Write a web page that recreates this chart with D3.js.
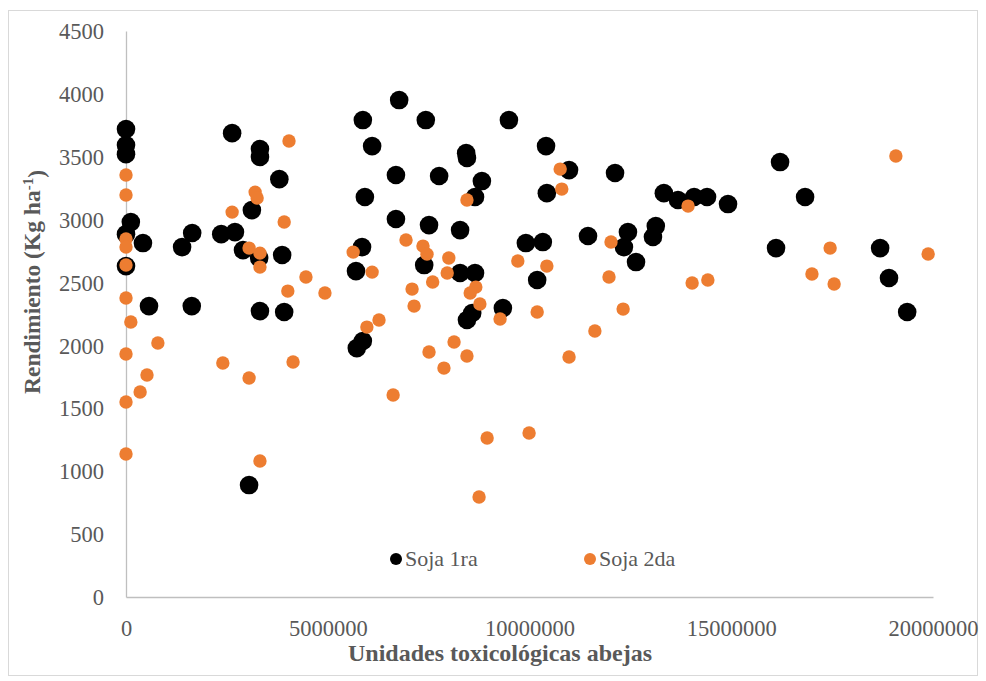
<!DOCTYPE html>
<html>
<head>
<meta charset="utf-8">
<script src="https://cdn.jsdelivr.net/npm/d3@7"></script>
<style>
  html, body { margin: 0; padding: 0; background: #fff; }
  svg { display: block; }
</style>
</head>
<body>
<svg id="chart" width="986" height="681"></svg>
<script>
// ---- data ----
const seriesNames = ["Soja 1ra", "Soja 2da"];
const xTicks = [0, 5000000, 10000000, 15000000, 20000000];
const yTicks = [0, 500, 1000, 1500, 2000, 2500, 3000, 3500, 4000, 4500];

const soja1raX = [0, 0, 0, 120000, 0, 420000, 0, 570000, 1390000, 1640000, 2360000, 2700000, 2630000, 1630000, 3120000, 3320000, 3320000, 2900000, 3300000, 3800000, 3870000, 3320000, 3920000, 3050000,
  6770000, 5870000, 7430000, 9490000, 6100000, 8430000, 8450000, 10410000, 6690000, 7760000, 8820000, 10980000, 12120000, 5920000, 8650000, 10430000, 6690000, 7510000, 8280000, 5850000, 5700000, 7390000, 8280000, 8650000, 9910000, 10330000, 11450000, 10190000, 9340000, 8450000, 8580000, 5720000, 5870000,
  13330000, 13680000, 14080000, 14400000, 14920000, 16210000, 16830000, 12440000, 13130000, 13060000, 12340000, 12640000, 16110000, 18690000, 18910000, 19360000];
const soja1raY = [3720, 3593, 3521, 2981, 2885, 2814, 2631, 2313, 2782, 2894, 2885, 2901, 3688, 2313, 3076, 3561, 3498, 2758, 2695, 3322, 2719, 2273, 2266, 890,
  3951, 3792, 3792, 3792, 3585, 3529, 3490, 3585, 3355, 3347, 3307, 3394, 3371, 3180, 3180, 3211, 3005, 2957, 2917, 2782, 2591, 2639, 2576, 2576, 2814, 2822, 2870, 2520, 2297, 2202, 2258, 1979, 2035,
  3211, 3156, 3180, 3180, 3124, 3458, 3180, 2901, 2949, 2862, 2782, 2663, 2774, 2774, 2536, 2266];

const soja2daX = [0, 0, 0, 0, 0, 0, 120000, 2630000, 3200000, 3250000, 4040000, 3920000, 3050000, 3320000, 3320000, 4460000, 4010000, 4930000, 790000, 0, 520000, 350000, 0, 0, 2400000, 3050000, 4140000, 3320000,
  10760000, 10800000, 8450000, 6940000, 5630000, 7360000, 7460000, 8000000, 6100000, 7960000, 7600000, 7090000, 8670000, 8530000, 7140000, 8770000, 9710000, 10430000, 10190000, 9270000, 11620000, 12020000, 11970000, 12320000, 6270000, 5970000, 8130000, 7510000, 8450000, 10980000, 7880000, 6620000, 8950000, 9990000, 8750000,
  19080000, 13930000, 17450000, 19880000, 17000000, 17550000, 14030000, 14420000];
const soja2daY = [3355, 3196, 2846, 2782, 2639, 2377, 2186, 3060, 3219, 3172, 3625, 2981, 2774, 2734, 2623, 2544, 2432, 2417, 2019, 1932, 1765, 1630, 1550, 1137, 1860, 1741, 1868, 1081,
  3402, 3243, 3156, 2838, 2742, 2790, 2726, 2695, 2583, 2576, 2504, 2448, 2464, 2417, 2313, 2329, 2671, 2631, 2266, 2210, 2115, 2822, 2544, 2289, 2202, 2146, 2027, 1948, 1916, 1908, 1820, 1606, 1264, 1304, 795,
  3506, 3108, 2774, 2727, 2568, 2488, 2496, 2520];

// ---- drawing ----
const svg = d3.select("#chart");
const font = "'Liberation Serif', 'Times New Roman', serif";
const textColor = "#595959";
const axisColor = "#BFBFBF";
const colors = ["#000000", "#ED7D31"];
const radii = [9.3, 6.7];

// outer chart border
svg.append("rect")
  .attr("x", 8.5).attr("y", 10.5).attr("width", 969).attr("height", 665)
  .attr("fill", "#fff").attr("stroke", "#D9D9D9").attr("stroke-width", 1);

const x = d3.scaleLinear().domain([0, 20000000]).range([126, 933]);
const y = d3.scaleLinear().domain([0, 4500]).range([597, 31]);

// axes
const yAxis = svg.append("g")
  .attr("transform", `translate(${x(0)},0)`)
  .call(d3.axisLeft(y).tickValues(yTicks).tickSize(0).tickPadding(22).tickFormat(d3.format("d")));
const xAxis = svg.append("g")
  .attr("transform", `translate(0,${y(0)})`)
  .call(d3.axisBottom(x).tickValues(xTicks).tickSize(0).tickPadding(24).tickFormat(d3.format("d")));

[yAxis, xAxis].forEach(g => {
  g.select(".domain").attr("stroke", axisColor).attr("stroke-width", 1.3);
  g.selectAll("text").attr("fill", textColor).style("font-family", font).style("font-size", "22.5px");
});
yAxis.selectAll("text").attr("dy", "0.34em");
xAxis.selectAll("text").attr("dy", "0.68em");

// points
const series = [
  soja1raX.map((v, i) => ({x: v, y: soja1raY[i]})),
  soja2daX.map((v, i) => ({x: v, y: soja2daY[i]}))
];
series.forEach((pts, si) => {
  svg.append("g").selectAll("circle").data(pts).join("circle")
    .attr("cx", d => x(d.x)).attr("cy", d => y(d.y))
    .attr("r", radii[si]).attr("fill", colors[si]);
});

// axis titles
svg.append("text")
  .attr("x", 500).attr("y", 661)
  .attr("text-anchor", "middle")
  .attr("fill", textColor).style("font-family", font).style("font-size", "24px").style("font-weight", "bold")
  .text("Unidades toxicológicas abejas");

const yt = svg.append("text")
  .attr("transform", "translate(40,282) rotate(-90)")
  .attr("text-anchor", "middle")
  .attr("fill", textColor).style("font-family", font).style("font-size", "23.5px").style("font-weight", "bold");
yt.append("tspan").text("Rendimiento (Kg ha");
yt.append("tspan").attr("dy", "-0.45em").style("font-size", "15px").text("-1");
yt.append("tspan").attr("dy", "0.45em").text(")");

// legend
const legendX = [396, 590];
seriesNames.forEach((name, i) => {
  const g = svg.append("g");
  g.append("circle").attr("cx", legendX[i]).attr("cy", 559).attr("r", 6).attr("fill", colors[i]);
  g.append("text").attr("x", legendX[i] + 9).attr("y", 559).attr("dy", "0.34em")
    .attr("fill", textColor).style("font-family", font).style("font-size", "22px")
    .text(name);
});
</script>
</body>
</html>
